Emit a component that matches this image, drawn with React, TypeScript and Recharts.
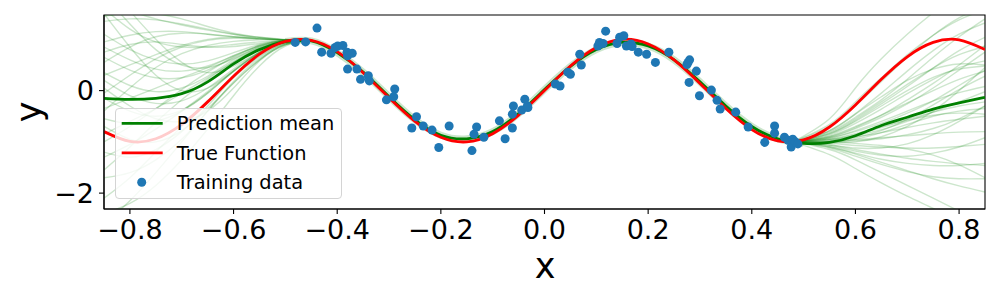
import { ComposedChart, Line, Scatter, XAxis, YAxis, ReferenceArea, Label } from "recharts";

document.body.style.margin = "0";

// grid for the true function and the prediction mean
const GRID_X = [
  -0.85, -0.8, -0.75, -0.7, -0.65, -0.6, -0.55, -0.5, -0.45, -0.4, -0.35, -0.3,
  -0.25, -0.2, -0.15, -0.1, -0.05, 0, 0.05, 0.1, 0.15, 0.2, 0.25, 0.3, 0.35,
  0.4, 0.45, 0.5, 0.55, 0.6, 0.65, 0.7, 0.75, 0.8, 0.85,
];
const TRUE_Y = [
  -0.8, -0.99, -0.94, -0.66, -0.22, 0.28, 0.71, 0.96, 0.98, 0.76, 0.35, -0.14,
  -0.6, -0.91, -1.0, -0.84, -0.48, 0, 0.48, 0.84, 1.0, 0.91, 0.6, 0.14, -0.35,
  -0.76, -0.98, -0.96, -0.71, -0.28, 0.22, 0.66, 0.94, 0.99, 0.8,
];
const MEAN_Y = [
  -0.15, -0.17, -0.15, -0.06, 0.17, 0.52, 0.8, 0.96, 0.97, 0.74, 0.36, -0.12,
  -0.57, -0.87, -0.94, -0.8, -0.45, 0.02, 0.47, 0.8, 0.94, 0.87, 0.6, 0.17, -0.3,
  -0.7, -0.94, -1.03, -1.01, -0.88, -0.68, -0.52, -0.36, -0.24, -0.13,
];

// posterior samples, left of the training data
const LEFT_X = [-0.85, -0.8, -0.75, -0.7, -0.65, -0.6, -0.55, -0.5, -0.45];
const LEFT_SAMPLES = [
  [1.7, 1.55, 1.4, 1.28, 1.18, 1.1, 1.04, 1.0, 0.97],
  [1.35, 1.4, 1.38, 1.3, 1.2, 1.1, 1.03, 0.99, 0.97],
  [0.55, 0.85, 1.05, 1.12, 1.1, 1.05, 1.01, 0.99, 0.97],
  [-0.4, 0.05, 0.45, 0.72, 0.88, 0.96, 0.99, 0.99, 0.97],
  [-1.3, -1.05, -0.75, -0.4, -0.02, 0.38, 0.72, 0.93, 0.97],
  [-2.1, -1.7, -1.2, -0.7, -0.2, 0.28, 0.68, 0.92, 0.97],
  [0.2, -0.1, -0.25, -0.2, 0.05, 0.42, 0.75, 0.94, 0.97],
  [1.5, 0.85, 0.3, 0.0, 0.05, 0.38, 0.74, 0.94, 0.97],
  [-0.85, -0.6, -0.35, -0.05, 0.25, 0.56, 0.82, 0.96, 0.97],
  [0.85, 0.6, 0.42, 0.38, 0.48, 0.68, 0.87, 0.97, 0.97],
  [2.1, 1.55, 1.0, 0.55, 0.35, 0.48, 0.75, 0.94, 0.97],
  [-1.7, -1.6, -1.35, -0.95, -0.4, 0.18, 0.63, 0.91, 0.97],
  [-0.05, 0.3, 0.62, 0.85, 0.98, 1.02, 1.01, 0.99, 0.97],
  [0.95, 1.08, 1.15, 1.15, 1.1, 1.05, 1.01, 0.99, 0.97],
  [-0.55, -0.65, -0.6, -0.4, -0.05, 0.38, 0.74, 0.94, 0.97],
  [0.35, 0.1, -0.02, 0.05, 0.28, 0.6, 0.85, 0.97, 0.97],
  [-2.6, -2.15, -1.6, -1.0, -0.4, 0.15, 0.6, 0.9, 0.97],
  [1.45, 1.52, 1.5, 1.4, 1.25, 1.12, 1.04, 0.99, 0.97],
  [-0.15, -0.4, -0.5, -0.38, -0.05, 0.38, 0.74, 0.94, 0.97],
  [0.65, 0.4, 0.25, 0.25, 0.4, 0.64, 0.86, 0.97, 0.97],
  [-1.0, -0.7, -0.35, 0.02, 0.36, 0.66, 0.88, 0.98, 0.97],
  [1.85, 1.3, 0.8, 0.5, 0.45, 0.62, 0.84, 0.96, 0.97],
  [0.3, 0.5, 0.7, 0.88, 1.0, 1.04, 1.02, 0.99, 0.97],
  [-1.55, -1.1, -0.62, -0.18, 0.22, 0.56, 0.82, 0.96, 0.97],
  [0.75, 0.9, 0.95, 0.9, 0.85, 0.86, 0.92, 0.97, 0.97],
  [-0.7, -0.95, -1.0, -0.78, -0.35, 0.15, 0.6, 0.9, 0.97],
  [1.1, 0.8, 0.6, 0.52, 0.58, 0.74, 0.9, 0.98, 0.97],
  [-0.35, -0.15, 0.05, 0.25, 0.45, 0.68, 0.88, 0.98, 0.97],
  [-2.4, -2.2, -1.85, -1.35, -0.75, -0.1, 0.48, 0.87, 0.97],
  [0.05, -0.3, -0.55, -0.6, -0.4, 0.05, 0.58, 0.89, 0.97],
  [1.6, 1.2, 0.95, 0.85, 0.85, 0.9, 0.95, 0.98, 0.97],
  [-1.2, -1.3, -1.15, -0.8, -0.3, 0.25, 0.66, 0.92, 0.97],
];

// posterior samples, right of the training data
const RIGHT_X = [0.48, 0.55, 0.6, 0.65, 0.7, 0.75, 0.8, 0.85];
const RIGHT_SAMPLES = [
  [-1.0, -0.55, 0.05, 0.62, 1.1, 1.52, 1.9, 2.25],
  [-1.0, -0.7, -0.3, 0.18, 0.65, 1.08, 1.42, 1.65],
  [-1.0, -0.78, -0.45, -0.05, 0.38, 0.78, 1.1, 1.32],
  [-1.0, -0.82, -0.55, -0.22, 0.12, 0.44, 0.7, 0.86],
  [-1.0, -0.86, -0.64, -0.36, -0.06, 0.22, 0.45, 0.58],
  [-1.0, -0.88, -0.7, -0.48, -0.24, 0.0, 0.22, 0.38],
  [-1.0, -0.92, -0.78, -0.6, -0.4, -0.2, -0.04, 0.08],
  [-1.0, -0.94, -0.84, -0.7, -0.56, -0.42, -0.3, -0.22],
  [-1.0, -0.96, -0.9, -0.82, -0.72, -0.63, -0.56, -0.5],
  [-1.0, -0.99, -0.96, -0.92, -0.88, -0.84, -0.81, -0.8],
  [-1.0, -1.03, -1.07, -1.1, -1.12, -1.12, -1.09, -1.05],
  [-1.0, -1.06, -1.15, -1.24, -1.32, -1.38, -1.43, -1.46],
  [-1.0, -1.1, -1.24, -1.4, -1.56, -1.72, -1.86, -1.98],
  [-1.0, -1.15, -1.35, -1.6, -1.85, -2.1, -2.35, -2.6],
  [-1.0, -0.84, -0.58, -0.26, 0.08, 0.44, 0.78, 1.04],
  [-1.0, -0.78, -0.46, -0.12, 0.2, 0.42, 0.52, 0.5],
  [-1.0, -0.9, -0.72, -0.48, -0.18, 0.14, 0.5, 0.88],
  [-1.0, -0.95, -0.86, -0.72, -0.58, -0.48, -0.44, -0.46],
  [-1.0, -1.0, -0.98, -0.94, -0.86, -0.74, -0.55, -0.3],
  [-1.0, -1.06, -1.12, -1.12, -1.04, -0.86, -0.6, -0.3],
  [-1.0, -1.1, -1.22, -1.34, -1.42, -1.46, -1.46, -1.42],
  [-1.0, -1.02, -1.0, -0.9, -0.7, -0.4, 0.0, 0.45],
  [-1.0, -0.84, -0.6, -0.3, 0.0, 0.26, 0.42, 0.48],
  [-1.0, -0.92, -0.8, -0.64, -0.44, -0.2, 0.1, 0.4],
  [-1.0, -1.0, -1.03, -1.07, -1.14, -1.26, -1.45, -1.7],
  [-1.0, -1.12, -1.28, -1.44, -1.58, -1.68, -1.72, -1.72],
  [-1.0, -0.66, -0.22, 0.25, 0.7, 1.08, 1.38, 1.58],
  [-1.0, -0.96, -0.88, -0.76, -0.6, -0.42, -0.22, -0.02],
  [-1.0, -1.0, -0.95, -0.82, -0.66, -0.5, -0.4, -0.35],
  [-1.0, -1.25, -1.52, -1.8, -2.06, -2.3, -2.55, -2.8],
  [-1.0, -0.98, -0.92, -0.78, -0.56, -0.28, 0.02, 0.28],
  [-1.0, -1.08, -1.18, -1.26, -1.28, -1.22, -1.1, -0.92],
  [-1.0, -0.8, -0.52, -0.18, 0.22, 0.65, 1.05, 1.4],
  [-1.0, -0.9, -0.74, -0.52, -0.26, 0.05, 0.4, 0.75],
];

// training points
const TRAIN_X = [
  -0.481, -0.461, -0.439, -0.43, -0.412, -0.404, -0.399, -0.389, -0.381, -0.38,
  -0.371, -0.38, -0.362, -0.355, -0.34, -0.338, -0.305, -0.289, -0.291, -0.247,
  -0.256, -0.234, -0.217, -0.184, -0.204, -0.131, -0.136, -0.117, -0.14, -0.087,
  -0.076, -0.062, -0.062, -0.06, -0.044, -0.038, -0.033, -0.032, 0.021, 0.03,
  0.045, 0.05, 0.068, 0.071, 0.103, 0.106, 0.113, 0.118, 0.14, 0.145, 0.153,
  0.158, 0.167, 0.169, 0.181, 0.197, 0.214, 0.24, 0.275, 0.277, 0.28, 0.279,
  0.293, 0.299, 0.322, 0.333, 0.339, 0.369, 0.393, 0.425, 0.444, 0.444, 0.463,
  0.47, 0.476, 0.479, 0.484, 0.489,
];
const TRAIN_Y = [
  0.94, 0.95, 1.22, 0.75, 0.73, 0.84, 0.87, 0.88, 0.75, 0.68, 0.73, 0.42, 0.42,
  0.22, 0.29, 0.19, -0.18, 0.03, -0.12, -0.51, -0.73, -0.69, -0.77, -0.69, -1.11,
  -0.71, -0.85, -0.91, -1.17, -0.59, -0.94, -0.73, -0.46, -0.3, -0.38, -0.17,
  -0.3, -0.33, 0.13, 0.09, 0.36, 0.32, 0.71, 0.5, 0.87, 0.94, 0.92, 1.16, 0.92,
  1.04, 1.07, 0.87, 0.91, 0.86, 0.75, 0.71, 0.55, 0.75, 0.51, 0.55, 0.6, 0.16,
  0.38, -0.1, 0.01, -0.19, -0.36, -0.42, -0.71, -1.01, -0.69, -0.83, -0.91,
  -0.97, -1.1, -0.95, -1.0, -1.04,
];

const X_TICKS = [-0.8, -0.6, -0.4, -0.2, 0, 0.2, 0.4, 0.6, 0.8];
const Y_TICKS = [-2, 0];
const X_DOMAIN = [-0.85, 0.85];
const Y_DOMAIN = [-2.31, 1.475];

const LEGEND_ITEMS = [
  { label: "Prediction mean", color: "#008000", kind: "line" },
  { label: "True Function", color: "#ff0000", kind: "line" },
  { label: "Training data", color: "#1f77b4", kind: "dot" },
];

const FONT = "'DejaVu Sans', sans-serif";

const toPoints = (xs: number[], ys: number[]) => xs.map((x, i) => ({ x, y: ys[i] }));
const minus = (s: string) => s.replace("-", "\u2212");

export default function App() {
  const truth = toPoints(GRID_X, TRUE_Y);
  const mean = toPoints(GRID_X, MEAN_Y);
  const band = mean.filter((p) => p.x >= -0.5 && p.x <= 0.5);
  const train = toPoints(TRAIN_X, TRAIN_Y);
  const samples = [
    ...LEFT_SAMPLES.map((s) => toPoints(LEFT_X, s)),
    ...RIGHT_SAMPLES.map((s) => toPoints(RIGHT_X, s)),
  ];

  return (
    <div style={{ position: "relative", width: 1000, height: 300, background: "#fff" }}>
      <ComposedChart width={1000} height={300} margin={{ top: 15, right: 15, bottom: 0, left: 0 }}>
        <XAxis
          type="number"
          dataKey="x"
          domain={X_DOMAIN}
          allowDataOverflow
          ticks={X_TICKS}
          tickFormatter={(v: number) => minus(v.toFixed(1))}
          height={91}
          tickSize={5}
          tickMargin={6}
          axisLine={{ stroke: "#000", strokeWidth: 1.1 }}
          tickLine={{ stroke: "#000", strokeWidth: 1.1 }}
          tick={{ fill: "#000", fontSize: 27, fontFamily: FONT }}
        >
          <Label
            content={() => (
              <text x={545} y={278} textAnchor="middle" fontSize={35} fontFamily={FONT} fill="#000">
                x
              </text>
            )}
          />
        </XAxis>
        <YAxis
          type="number"
          dataKey="y"
          domain={Y_DOMAIN}
          allowDataOverflow
          ticks={Y_TICKS}
          tickFormatter={(v: number) => minus(String(v))}
          width={104}
          tickSize={5}
          tickMargin={5}
          axisLine={{ stroke: "#000", strokeWidth: 1.1 }}
          tickLine={{ stroke: "#000", strokeWidth: 1.1 }}
          tick={{ fill: "#000", fontSize: 27, fontFamily: FONT }}
        >
          <Label
            content={() => (
              <text
                x={41}
                y={112}
                transform="rotate(-90 41 112)"
                textAnchor="middle"
                fontSize={35}
                fontFamily={FONT}
                fill="#000"
              >
                y
              </text>
            )}
          />
        </YAxis>

        {samples.map((pts, i) => (
          <Line
            key={"s" + i}
            data={pts}
            dataKey="y"
            type="natural"
            stroke="#008000"
            strokeOpacity={0.2}
            strokeWidth={1.4}
            dot={false}
            activeDot={false}
            isAnimationActive={false}
          />
        ))}
        <Line
          data={band}
          dataKey="y"
          type="natural"
          stroke="#008000"
          strokeOpacity={0.2}
          strokeWidth={7}
          dot={false}
          activeDot={false}
          isAnimationActive={false}
        />
        <Line
          data={mean}
          dataKey="y"
          type="natural"
          stroke="#008000"
          strokeWidth={2.8}
          dot={false}
          activeDot={false}
          isAnimationActive={false}
        />
        <Line
          data={truth}
          dataKey="y"
          type="natural"
          stroke="#ff0000"
          strokeWidth={2.8}
          dot={false}
          activeDot={false}
          isAnimationActive={false}
        />
        <Scatter data={train} fill="#1f77b4" isAnimationActive={false} />
        <ReferenceArea
          x1={X_DOMAIN[0]}
          x2={X_DOMAIN[1]}
          y1={Y_DOMAIN[0]}
          y2={Y_DOMAIN[1]}
          fill="none"
          stroke="#000"
          strokeWidth={1.1}
          ifOverflow="visible"
        />
      </ComposedChart>

      <div
        style={{
          position: "absolute",
          left: 115,
          top: 108,
          width: 227,
          height: 91,
          boxSizing: "border-box",
          border: "1px solid #d4d4d4",
          borderRadius: 4,
          background: "rgba(255,255,255,0.8)",
        }}
      >
        <svg width={225} height={89} style={{ display: "block" }}>
          {LEGEND_ITEMS.map((it, i) => {
            const cy = 14.3 + i * 29.5;
            return (
              <g key={it.label}>
                {it.kind === "line" ? (
                  <line x1={5.7} x2={46.7} y1={cy} y2={cy} stroke={it.color} strokeWidth={2.8} />
                ) : (
                  <circle cx={25.7} cy={cy} r={4.5} fill={it.color} />
                )}
                <text x={60.7} y={cy + 6.8} fontSize={19.4} fontFamily={FONT} fill="#000">
                  {it.label}
                </text>
              </g>
            );
          })}
        </svg>
      </div>
    </div>
  );
}
